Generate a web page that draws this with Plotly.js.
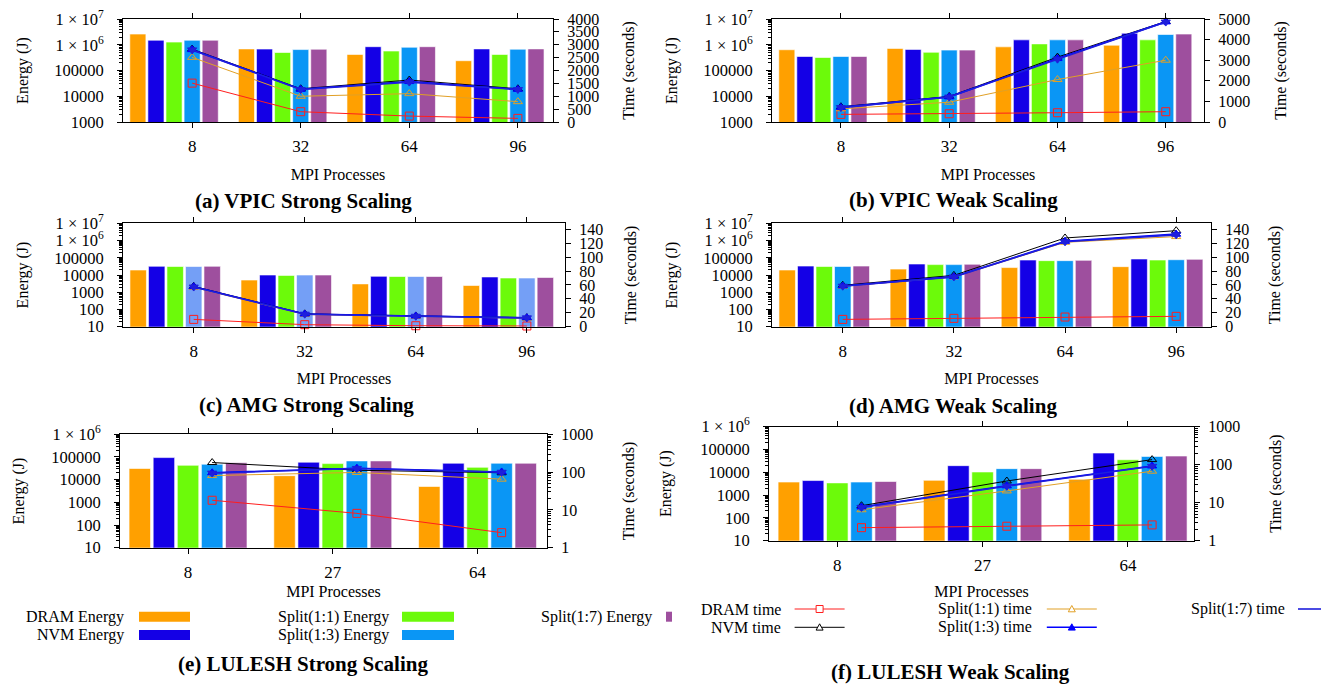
<!DOCTYPE html>
<html><head><meta charset="utf-8">
<script src="https://cdn.plot.ly/plotly-3.0.1.min.js"></script>
<style>body{margin:0;background:#fff}#chart{width:1330px;height:686px}</style>
</head><body><div id="chart"></div>
<script>
// ---------- categories ----------
const procs4 = ['8', '32', '64', '96'];
const procs3 = ['8', '27', '64'];
const energyNames = ['DRAM Energy', 'NVM Energy', 'Split(1:1) Energy', 'Split(1:3) Energy', 'Split(1:7) Energy'];
const timeNames = ['DRAM time', 'NVM time', 'Split(1:1) time', 'Split(1:3) time', 'Split(1:7) time'];
const panelTitles = ['(a) VPIC Strong Scaling', '(b) VPIC Weak Scaling', '(c) AMG Strong Scaling',
                     '(d) AMG Weak Scaling', '(e) LULESH Strong Scaling', '(f) LULESH Weak Scaling'];

// ---------- (a) VPIC strong ----------
const vpicStrongEnergyDram = [2.6e6, 6.9e5, 4.2e5, 2.4e5];
const vpicStrongEnergyNvm  = [1.5e6, 6.8e5, 8.4e5, 6.9e5];
const vpicStrongEnergyS11  = [1.27e6, 5.0e5, 5.7e5, 4.2e5];
const vpicStrongEnergyS13  = [1.5e6, 6.5e5, 8.0e5, 6.7e5];
const vpicStrongEnergyS17  = [1.5e6, 6.7e5, 8.4e5, 6.9e5];
const vpicStrongTimeDram = [1510, 400, 230, 140];
const vpicStrongTimeNvm  = [2830, 1290, 1630, 1290];
const vpicStrongTimeS11  = [2510, 1000, 1100, 790];
const vpicStrongTimeS13  = [2810, 1270, 1570, 1270];
const vpicStrongTimeS17  = [2800, 1260, 1550, 1260];

// ---------- (b) VPIC weak ----------
const vpicWeakEnergyDram = [6.4e5, 7.2e5, 8.3e5, 9.6e5];
const vpicWeakEnergyNvm  = [3.5e5, 6.6e5, 1.55e6, 2.8e6];
const vpicWeakEnergyS11  = [3.2e5, 5.1e5, 1.08e6, 1.55e6];
const vpicWeakEnergyS13  = [3.5e5, 6.2e5, 1.55e6, 2.5e6];
const vpicWeakEnergyS17  = [3.5e5, 6.2e5, 1.55e6, 2.6e6];
const vpicWeakTimeDram = [370, 400, 450, 500];
const vpicWeakTimeNvm  = [740, 1240, 3150, 4880];
const vpicWeakTimeS11  = [640, 960, 2060, 3000];
const vpicWeakTimeS13  = [710, 1220, 3080, 4860];
const vpicWeakTimeS17  = [700, 1210, 3050, 4850];

// ---------- (c) AMG strong ----------
const amgStrongEnergyDram = [1.95e4, 5.1e3, 3.05e3, 2.45e3];
const amgStrongEnergyNvm  = [3.2e4, 1.0e4, 8.4e3, 7.7e3];
const amgStrongEnergyS11  = [3.1e4, 9.5e3, 8.2e3, 6.7e3];
const amgStrongEnergyS13  = [3.1e4, 1.0e4, 8.2e3, 6.7e3];
const amgStrongEnergyS17  = [3.2e4, 1.0e4, 8.2e3, 7.2e3];
const amgStrongTimeDram = [10.5, 2.9, 1.4, 1.0];
const amgStrongTimeNvm  = [58, 18.5, 15.5, 13];
const amgStrongTimeS11  = [56.5, 17.5, 14.8, 12.2];
const amgStrongTimeS13  = [57.5, 18.2, 15.3, 12.9];
const amgStrongTimeS17  = [57, 18, 15, 12.7];

// ---------- (d) AMG weak ----------
const amgWeakEnergyDram = [1.95e4, 2.2e4, 2.7e4, 3.05e4];
const amgWeakEnergyNvm  = [3.3e4, 4.35e4, 7.4e4, 8.5e4];
const amgWeakEnergyS11  = [3.1e4, 4.0e4, 6.8e4, 7.4e4];
const amgWeakEnergyS13  = [3.1e4, 4.0e4, 6.8e4, 7.7e4];
const amgWeakEnergyS17  = [3.3e4, 4.2e4, 7.1e4, 8.1e4];
const amgWeakTimeDram = [10.5, 12, 13.9, 14.9];
const amgWeakTimeNvm  = [59.5, 73.8, 127.5, 138];
const amgWeakTimeS11  = [58, 71.4, 121.3, 129.5];
const amgWeakTimeS13  = [58.5, 71.9, 122.7, 133];
const amgWeakTimeS17  = [58.2, 71.6, 122, 132];

// ---------- (e) LULESH strong ----------
const luleshStrongEnergyDram = [3.1e4, 1.5e4, 5.0e3];
const luleshStrongEnergyNvm  = [9.4e4, 5.9e4, 5.3e4];
const luleshStrongEnergyS11  = [4.3e4, 5.1e4, 3.5e4];
const luleshStrongEnergyS13  = [4.8e4, 6.7e4, 5.3e4];
const luleshStrongEnergyS17  = [5.5e4, 6.7e4, 5.3e4];
const luleshStrongTimeDram = [18, 8.1, 2.5];
const luleshStrongTimeNvm  = [179, 112, 96];
const luleshStrongTimeS11  = [81, 98, 65];
const luleshStrongTimeS13  = [96, 127, 101];
const luleshStrongTimeS17  = [94, 125, 99];

// ---------- (f) LULESH weak ----------
const luleshWeakEnergyDram = [3.7e3, 4.4e3, 4.9e3];
const luleshWeakEnergyNvm  = [4.3e3, 1.93e4, 6.9e4];
const luleshWeakEnergyS11  = [3.4e3, 1.02e4, 3.5e4];
const luleshWeakEnergyS13  = [3.7e3, 1.43e4, 4.9e4];
const luleshWeakEnergyS17  = [3.9e3, 1.43e4, 5.1e4];
const luleshWeakTimeDram = [2.2, 2.4, 2.6];
const luleshWeakTimeNvm  = [8.3, 37, 135];
const luleshWeakTimeS11  = [6.5, 20.3, 67];
const luleshWeakTimeS13  = [7.7, 27.7, 92];
const luleshWeakTimeS17  = [7.5, 27, 90];

// ---------- tick values ----------
const energyTicks7 = [1e3, 1e4, 1e5, 1e6, 1e7];
const energyTicks7b = [10, 100, 1e3, 1e4, 1e5, 1e6, 1e7];
const energyTicks6 = [10, 100, 1e3, 1e4, 1e5, 1e6];
const timeLogTicks = [1, 10, 100, 1000];

// ---------- styling ----------
const FONT = 'Liberation Serif';
const W = 1330, H = 686;
const barColors = ['#FFA000', '#1400E6', '#6CFA0A', '#0A96F5', '#9E4F9E'];
const lineColors = ['#FF1E1E', '#000000', '#E1A026', '#0000FF', '#1E1EDC'];
const lineWidths = [1, 1, 1, 1.6, 1.6];
const markerSymbols = ['square-open', 'triangle-up-open', 'triangle-up-open', 'triangle-up', 'triangle-down'];
const BARGAP = 0.167, GROUPGAP = 0.11;
const SLOT = (1 - BARGAP) / 5;

const panels = [
  {cats: procs4, energy: [vpicStrongEnergyDram, vpicStrongEnergyNvm, vpicStrongEnergyS11, vpicStrongEnergyS13, vpicStrongEnergyS17],
   time: [vpicStrongTimeDram, vpicStrongTimeNvm, vpicStrongTimeS11, vpicStrongTimeS13, vpicStrongTimeS17],
   px: [123, 553], py: [19, 122], eRange: [3, 7], eTicks: energyTicks7, tLog: false, tRange: [0, 4000], tDtick: 500,
   xRight: 3.49, ticksOnLines: true, s13: '#0A96F5', title: [303, 201], xStand: 13, eStand: 21, tStand: 24},
  {cats: procs4, energy: [vpicWeakEnergyDram, vpicWeakEnergyNvm, vpicWeakEnergyS11, vpicWeakEnergyS13, vpicWeakEnergyS17],
   time: [vpicWeakTimeDram, vpicWeakTimeNvm, vpicWeakTimeS11, vpicWeakTimeS13, vpicWeakTimeS17],
   px: [772, 1204], py: [19, 122], eRange: [3, 7], eTicks: energyTicks7, tLog: false, tRange: [0, 5000], tDtick: 1000,
   xRight: 3.52, ticksOnLines: true, s13: '#0A96F5', title: [953, 200], xStand: 13, eStand: 21, tStand: 25},
  {cats: procs4, energy: [amgStrongEnergyDram, amgStrongEnergyNvm, amgStrongEnergyS11, amgStrongEnergyS13, amgStrongEnergyS17],
   time: [amgStrongTimeDram, amgStrongTimeNvm, amgStrongTimeS11, amgStrongTimeS13, amgStrongTimeS17],
   px: [123, 565], py: [223.3, 326.7], eRange: [1, 7], eTicks: energyTicks7b, tLog: false, tRange: [0, 148.6], tDtick: 20,
   xRight: 3.51, ticksOnLines: true, s13: '#749FF6', title: [306, 405], xStand: 12, eStand: 21, tStand: 22},
  {cats: procs4, energy: [amgWeakEnergyDram, amgWeakEnergyNvm, amgWeakEnergyS11, amgWeakEnergyS13, amgWeakEnergyS17],
   time: [amgWeakTimeDram, amgWeakTimeNvm, amgWeakTimeS11, amgWeakTimeS13, amgWeakTimeS17],
   px: [772, 1211], py: [223.3, 326.7], eRange: [1, 7], eTicks: energyTicks7b, tLog: false, tRange: [0, 148.6], tDtick: 20,
   xRight: 3.48, ticksOnLines: true, s13: '#0A96F5', title: [953, 406], xStand: 12, eStand: 21, tStand: 20},
  {cats: procs3, energy: [luleshStrongEnergyDram, luleshStrongEnergyNvm, luleshStrongEnergyS11, luleshStrongEnergyS13, luleshStrongEnergyS17],
   time: [luleshStrongTimeDram, luleshStrongTimeNvm, luleshStrongTimeS11, luleshStrongTimeS13, luleshStrongTimeS17],
   px: [120, 547], py: [434.3, 547.7], eRange: [1, 6], eTicks: energyTicks6, tLog: true,
   xRight: 2.48, ticksOnLines: false, s13: '#0A96F5', title: [303, 664], xStand: 4, eStand: 22, tStand: 30},
  {cats: procs3, energy: [luleshWeakEnergyDram, luleshWeakEnergyNvm, luleshWeakEnergyS11, luleshWeakEnergyS13, luleshWeakEnergyS17],
   time: [luleshWeakTimeDram, luleshWeakTimeNvm, luleshWeakTimeS11, luleshWeakTimeS13, luleshWeakTimeS17],
   px: [769, 1194], py: [426.5, 540.7], eRange: [1, 6], eTicks: energyTicks6, tLog: true,
   xRight: 2.455, ticksOnLines: false, s13: '#0A96F5', title: [951, 672], xStand: 11, eStand: 24, tStand: 30}
];

function energyLabel(v) {
  const e = Math.round(Math.log10(v));
  return v >= 1e6 ? '1 × 10<sup>' + e + '</sup>' : String(v);
}
const axName = (i) => (i === 1 ? '' : String(i));

const traces = [];
const layout = {
  width: W, height: H, margin: {l: 0, r: 0, t: 0, b: 0},
  paper_bgcolor: 'white', plot_bgcolor: 'white', showlegend: false,
  barmode: 'group', bargap: BARGAP, bargroupgap: GROUPGAP,
  font: {family: FONT, size: 17, color: 'black'},
  annotations: [], shapes: []
};

panels.forEach((p, k) => {
  const ia = 2 * k + 1, ib = 2 * k + 2;
  const xa = 'x' + axName(ia), ya = 'y' + axName(ia);
  const xb = 'x' + axName(ib), yb = 'y' + axName(ib);
  const colors = barColors.slice(); colors[3] = p.s13;

  p.energy.forEach((vals, j) => {
    traces.push({type: 'bar', name: energyNames[j], x: p.cats, y: vals, xaxis: xa, yaxis: ya,
      marker: {color: colors[j], line: {color: 'rgba(255,255,255,0.6)', width: 1}}, hoverinfo: 'y+name'});
  });
  p.time.forEach((vals, j) => {
    traces.push({type: 'scatter', mode: 'lines+markers', name: timeNames[j], x: p.cats, y: vals, xaxis: xb, yaxis: yb,
      line: {color: lineColors[j], width: lineWidths[j]}, cliponaxis: false,
      marker: {symbol: markerSymbols[j], size: 8, color: lineColors[j], line: {color: lineColors[j], width: 1}}});
  });

  const xDom = [p.px[0] / W, p.px[1] / W];
  const yDom = [1 - p.py[1] / H, 1 - p.py[0] / H];
  const xTitle = {text: 'MPI Processes', standoff: p.xStand, font: {size: 16}};

  const xBars = {
    domain: xDom, anchor: ya, type: 'category', range: [-0.47, p.xRight],
    showline: true, linecolor: 'black', linewidth: 1, mirror: p.ticksOnLines ? true : 'ticks',
    ticks: p.ticksOnLines ? '' : 'outside', ticklen: 5, tickcolor: 'black',
    showticklabels: !p.ticksOnLines, ticklabelstandoff: 4, showgrid: false, zeroline: false,
    fixedrange: true, automargin: false
  };
  const xLines = {
    overlaying: xa, anchor: yb, side: 'bottom', type: 'category',
    range: [-0.47 - SLOT, p.xRight - SLOT],
    showline: false, mirror: p.ticksOnLines ? 'ticks' : false,
    ticks: p.ticksOnLines ? 'outside' : '', ticklen: 5, tickcolor: 'black',
    showticklabels: p.ticksOnLines, ticklabelstandoff: 4, showgrid: false, zeroline: false,
    fixedrange: true, automargin: false
  };
  if (p.ticksOnLines) xLines.title = xTitle; else xBars.title = xTitle;
  layout['xaxis' + axName(ia)] = xBars;
  layout['xaxis' + axName(ib)] = xLines;

  layout['yaxis' + axName(ia)] = {
    domain: yDom, anchor: xa, type: 'log', range: p.eRange,
    tickmode: 'array', tickvals: p.eTicks, ticktext: p.eTicks.map(energyLabel),
    ticks: 'outside', ticklen: 5, tickcolor: 'black', tickfont: {size: 16.5},
    minor: {ticks: 'outside', ticklen: 3, tickcolor: 'black', tickmode: 'linear', dtick: 'D1', showgrid: false},
    showline: true, linecolor: 'black', linewidth: 1, showgrid: false, zeroline: false,
    ticklabelstandoff: 10, fixedrange: true, automargin: false,
    title: {text: 'Energy (J)', standoff: p.eStand, font: {size: 16}}
  };
  const yRight = {
    overlaying: ya, anchor: xa, side: 'right',
    ticks: 'outside', ticklen: 5, tickcolor: 'black', tickfont: {size: 16},
    showline: true, linecolor: 'black', linewidth: 1, showgrid: false, zeroline: false,
    ticklabelstandoff: 5, fixedrange: true, automargin: false,
    title: {text: 'Time (seconds)', standoff: p.tStand, font: {size: 16}}
  };
  if (p.tLog) {
    Object.assign(yRight, {type: 'log', range: [0, 3], tickmode: 'array', tickvals: timeLogTicks,
      ticktext: timeLogTicks.map(String),
      minor: {ticks: 'outside', ticklen: 3, tickcolor: 'black', tickmode: 'linear', dtick: 'D1', showgrid: false}});
  } else {
    Object.assign(yRight, {type: 'linear', range: p.tRange, tick0: 0, dtick: p.tDtick});
  }
  layout['yaxis' + axName(ib)] = yRight;

  layout.annotations.push({xref: 'paper', yref: 'paper', x: p.title[0] / W, y: 1 - p.title[1] / H,
    xanchor: 'center', yanchor: 'middle', showarrow: false,
    text: '<b>' + panelTitles[k] + '</b>', font: {size: 21, family: FONT}});
});

// ---------- legend (drawn below panels e/f) ----------
function paperX(px) { return px / W; }
function paperY(py) { return 1 - py / H; }
function legendText(txt, xRight, yc) {
  layout.annotations.push({xref: 'paper', yref: 'paper', x: paperX(xRight), y: paperY(yc),
    xanchor: 'right', yanchor: 'middle', showarrow: false, text: txt, font: {size: 16, family: FONT}});
}
function swatch(color, x0, x1, yc) {
  layout.shapes.push({type: 'rect', xref: 'paper', yref: 'paper', x0: paperX(x0), x1: paperX(x1),
    y0: paperY(yc + 5), y1: paperY(yc - 5), fillcolor: color, line: {width: 0}});
}
function lineSample(j, x0, x1, yc, withMarker) {
  layout.shapes.push({type: 'line', xref: 'paper', yref: 'paper', x0: paperX(x0), x1: paperX(x1),
    y0: paperY(yc), y1: paperY(yc), line: {color: lineColors[j], width: lineWidths[j]}});
  if (!withMarker) return;
  const cx = (x0 + x1) / 2, r = 3.5;
  if (markerSymbols[j] === 'square-open') {
    layout.shapes.push({type: 'rect', xref: 'paper', yref: 'paper', x0: paperX(cx - r), x1: paperX(cx + r),
      y0: paperY(yc + r), y1: paperY(yc - r), fillcolor: 'white', line: {color: lineColors[j], width: 1}});
  } else {
    const filled = markerSymbols[j] === 'triangle-up';
    const path = 'M ' + paperX(cx - r) + ' ' + paperY(yc + r * 0.8) + ' L ' + paperX(cx + r) + ' ' + paperY(yc + r * 0.8) +
                 ' L ' + paperX(cx) + ' ' + paperY(yc - r) + ' Z';
    layout.shapes.push({type: 'path', xref: 'paper', yref: 'paper', path: path,
      fillcolor: filled ? lineColors[j] : 'white', line: {color: lineColors[j], width: 1}});
  }
}
legendText(energyNames[0], 126, 616.7); swatch(barColors[0], 139, 190, 616.7);
legendText(energyNames[1], 126, 635);   swatch(barColors[1], 139, 190, 635);
legendText(energyNames[2], 390.6, 616.7); swatch(barColors[2], 402, 454, 616.7);
legendText(energyNames[3], 390.6, 635);   swatch(barColors[3], 402, 454, 635);
legendText(energyNames[4], 654.3, 616.7); swatch(barColors[4], 666, 672, 616.7);

legendText(timeNames[0], 782.6, 609);   lineSample(0, 794.6, 844.6, 609, true);
legendText(timeNames[1], 782.6, 627.3); lineSample(1, 794.6, 844.6, 627.3, true);
legendText(timeNames[2], 1034, 609);    lineSample(2, 1046.8, 1096.8, 609, true);
legendText(timeNames[3], 1034, 627.3);  lineSample(3, 1046.8, 1096.8, 627.3, true);
legendText(timeNames[4], 1286.7, 609);  lineSample(4, 1298, 1321, 609, false);

Plotly.newPlot('chart', traces, layout, {staticPlot: true, displayModeBar: false});
</script>
</body></html>
